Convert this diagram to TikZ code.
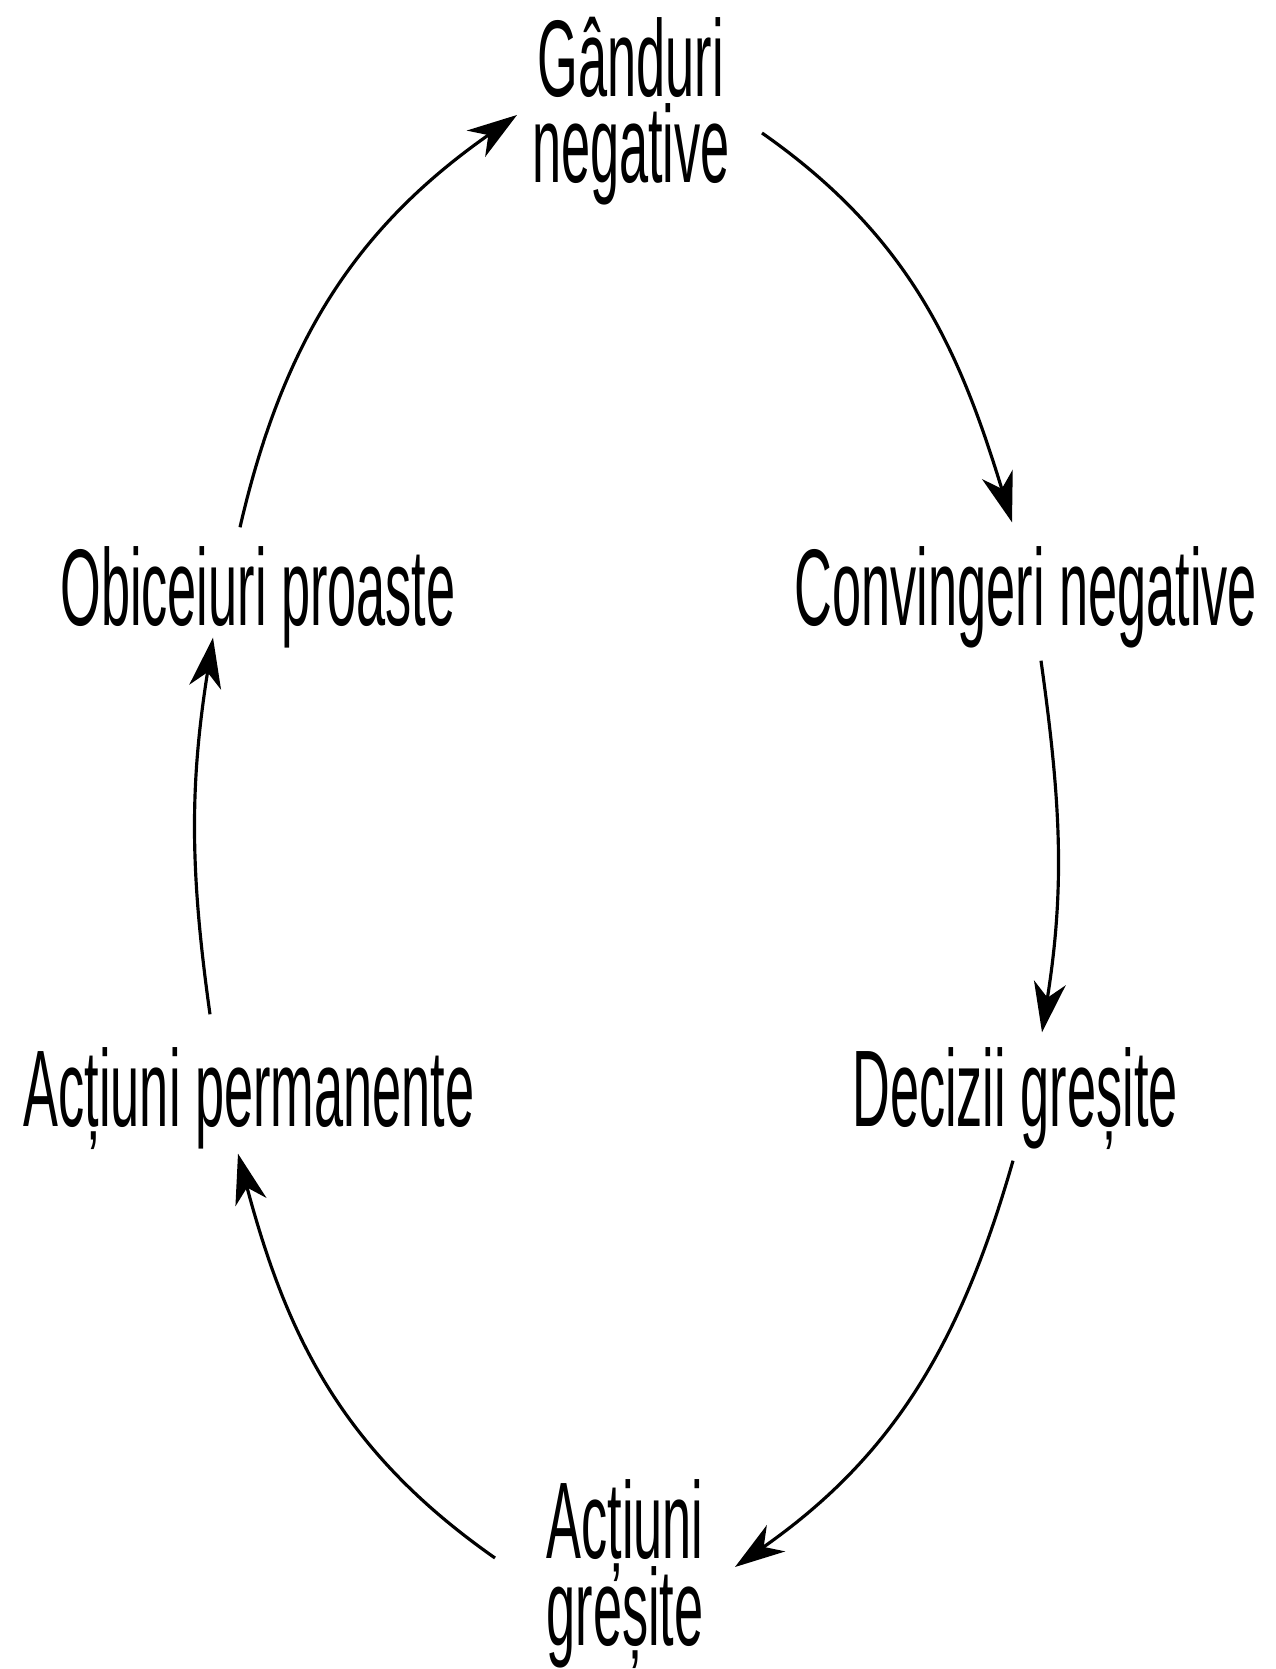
\documentclass[tikz,border=0pt]{standalone}
\usepackage{fontspec}
\setmainfont{Liberation Sans}[FakeStretch=0.48]
\usetikzlibrary{arrows.meta, calc}
\newcommand\cyclefont{\fontsize{31pt}{24.7pt}\selectfont\lineskiplimit -100pt\relax}

\begin{document}
\begin{tikzpicture}[x=0.1mm, y=0.1mm,
  lbl/.style={inner sep=0pt, anchor=base, font=\cyclefont, text height=7.8mm, text depth=0pt},
  lbl2/.style={inner sep=0pt, anchor=base, align=center, font=\cyclefont},
  cyc/.style={-{Stealth[length=5mm, width=3.2mm, inset=1.5mm]}, line width=0.9pt}]
  \useasboundingbox (0,0) rectangle (1276,1669);
  % the six steps of the cycle
  \node[lbl2] (gand) at (631,1486) {Gânduri\\negative};
  \node[lbl] (conv) at (1026,1043) {Convingeri negative};
  \node[lbl] (dec) at (1015,542) {Decizii greșite};
  \node[lbl2] (actg) at (625,24) {Acțiuni\\greșite};
  \node[lbl] (actp) at (249,542) {Acțiuni permanente};
  \node[lbl] (obic) at (258,1043) {Obiceiuri proaste};
  % arrows round the loop
  \draw[cyc] ($(gand.base)+(131,50)$) to[out=-35, in=107] ($(conv.north)+(-14,25)$);
  \draw[cyc] ($(conv.south)+(15,-34)$) to[out=-82, in=81] ($(dec.north)+(27,16)$);
  \draw[cyc] ($(dec.south)+(-2,-33)$) to[out=-106, in=35] ($(actg.base)+(110,78)$);
  \draw[cyc] ($(actg.base)+(-130,87)$) to[out=145, in=-75] ($(actp.south)+(-11,-26)$);
  \draw[cyc] ($(actp.north)+(-39,34)$) to[out=98, in=-99] ($(obic.south)+(-45,-11)$);
  \draw[cyc] ($(obic.north)+(-18,20)$) to[out=77, in=-145] ($(gand.base)+(-114,68)$);
\end{tikzpicture}
\end{document}
